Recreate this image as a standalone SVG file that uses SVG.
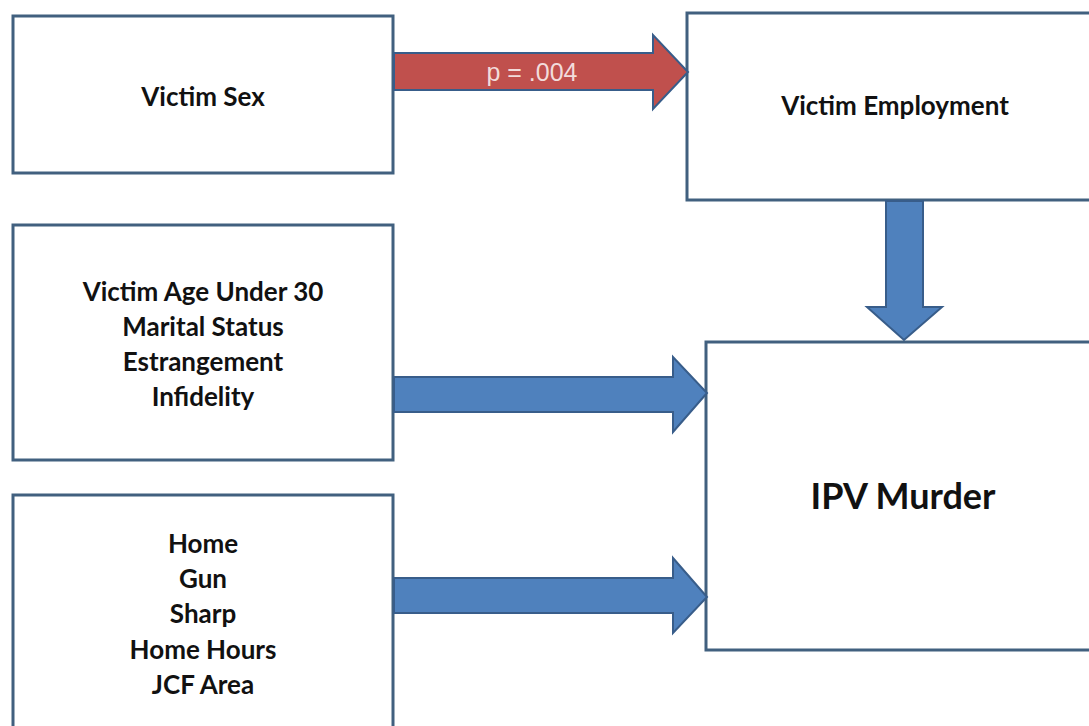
<svg xmlns="http://www.w3.org/2000/svg" width="1089" height="726" viewBox="0 0 1089 726">
<style>
.box{fill:#ffffff;stroke:#41607f;stroke-width:3}
.lbl{font-family:Lato,"Open Sans",sans-serif;font-weight:bold;font-size:26px;fill:#111111;text-anchor:middle}
.big{font-size:36px}
.blue{fill:#4f81bd;stroke:#385d8a;stroke-width:2}
.red{fill:#c0504d;stroke:#385d8a;stroke-width:2}
.p{font-family:"Liberation Sans",Arial,sans-serif;font-size:25px;fill:#f2dcdb;text-anchor:middle}
</style>
<rect width="1089" height="726" fill="#ffffff"/>
<g id="victim-sex">
<rect class="box" x="13" y="16" width="380" height="157"/>
<text class="lbl" x="203" y="106">Victim Sex</text>
</g>
<g id="victim-employment">
<rect class="box" x="687" y="13" width="410" height="187"/>
<text class="lbl" x="895" y="115">Victim Employment</text>
</g>
<g id="risk-factors">
<rect class="box" x="13" y="225" width="380" height="235"/>
<text class="lbl" x="203" y="301">Victim Age Under 30</text>
<text class="lbl" x="203" y="336">Marital Status</text>
<text class="lbl" x="203" y="371">Estrangement</text>
<text class="lbl" x="203" y="406">Infidelity</text>
</g>
<g id="situational">
<rect class="box" x="13" y="495" width="380" height="245"/>
<text class="lbl" x="203" y="553">Home</text>
<text class="lbl" x="203" y="588">Gun</text>
<text class="lbl" x="203" y="623">Sharp</text>
<text class="lbl" x="203" y="659">Home Hours</text>
<text class="lbl" x="203" y="694">JCF Area</text>
</g>
<g id="ipv-murder">
<rect class="box" x="706" y="342" width="390" height="308"/>
<text class="lbl big" x="903" y="509">IPV Murder</text>
</g>
<g id="connectors">
<polygon class="red" points="394,53 653,53 653,35 688,72 653,109 653,90 394,90"/>
<text class="p" x="532" y="81">p = .004</text>
<polygon class="blue" points="886,201 923,201 923,307 942,307 904,340 867,307 886,307"/>
<polygon class="blue" points="394,377 673,377 673,357 707,393 673,432 673,412 394,412"/>
<polygon class="blue" points="394,578 673,578 673,558 707,597 673,633 673,613 394,613"/>
</g>
</svg>
